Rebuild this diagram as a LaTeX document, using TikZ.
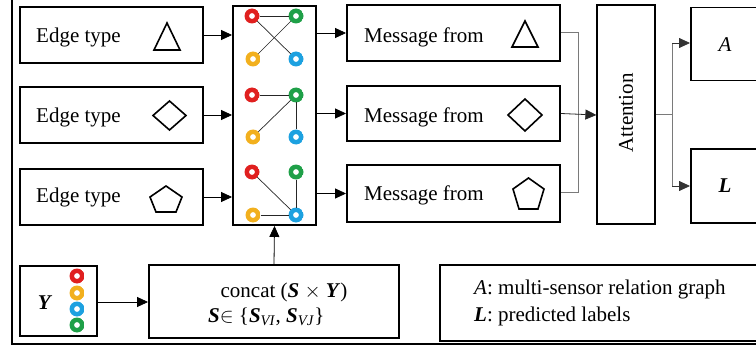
\documentclass[tikz,border=0pt]{standalone}
\usepackage{fontspec}
\setmainfont{Liberation Serif}
\usetikzlibrary{shapes.geometric,arrows.meta}
\definecolor{cred}{HTML}{E0201F}
\definecolor{cyel}{HTML}{F2B01E}
\definecolor{cblu}{HTML}{1DA1E0}
\definecolor{cgrn}{HTML}{1FA048}
\definecolor{cgray}{HTML}{7A7A7A}
\begin{document}
\begin{tikzpicture}[x=1pt,y=-1pt,
  box/.style={draw, line width=1.9pt, inner sep=0pt},
  thinbox/.style={draw, line width=1.2pt, inner sep=0pt},
  lbl/.style={font=\fontsize{21}{25}\selectfont, inner sep=0pt},
  ring/.style={circle, minimum size=15pt, inner sep=0pt, outer sep=0pt,
    path picture={\fill[#1, even odd rule] (path picture bounding box.center) circle[radius=7.5pt] circle[radius=3pt];}},
  gl/.style={line width=0.7pt, draw=black!85},
  sym/.style={line width=1.6pt, line join=miter},
  arr/.style={line width=0.8pt, -{Triangle[length=11pt,width=10pt]}},
  gline/.style={line width=1pt, draw=cgray}
]
\useasboundingbox (0,0) rectangle (756,353);
\clip (0,0) rectangle (756,353);

% outer frame
\draw[line width=1.9pt] (12,-10) -- (12,344) -- (800,344);

% edge type boxes
\node[box, minimum width=183pt, minimum height=56pt] (e1) at (111.5,35) {};
\node[box, minimum width=183pt, minimum height=56pt] (e2) at (111.5,115) {};
\node[box, minimum width=183pt, minimum height=56pt] (e3) at (111.5,197) {};
\node[lbl, anchor=west] (e1t) at (36,37) {Edge type};
\node[lbl, anchor=west] (e2t) at (36,117) {Edge type};
\node[lbl, anchor=west] (e3t) at (36,197) {Edge type};
\draw[sym] (167,23) -- (180,50) -- (154,50) -- cycle;
\draw[sym] (169.5,101) -- (186,115.5) -- (169.5,130) -- (153,115.5) -- cycle;
\draw[sym] (166,186) -- (182,197) -- (176,212) -- (156,212) -- (150,197) -- cycle;

% graph box
\node[box, minimum width=83pt, minimum height=219pt] (g) at (274.5,115.5) {};
\foreach \k/\ya/\yb in {1/16/59, 2/95/137, 3/172/215}{
  \node[ring=cred] (r\k) at (252,\ya) {};
  \node[ring=cgrn] (gr\k) at (296,\ya) {};
  \node[ring=cyel] (y\k) at (253,\yb) {};
  \node[ring=cblu] (b\k) at (296,\yb) {};
}
\draw[gl] (r1) -- (gr1);
\draw[gl] (r1) -- (b1);
\draw[gl] (y1) -- (gr1);
\draw[gl] (r2) -- (gr2);
\draw[gl] (gr2) -- (y2);
\draw[gl] (gr2) -- (b2);
\draw[gl] (r3) -- (b3);
\draw[gl] (gr3) -- (b3);
\draw[gl] (y3) -- (b3);

% edge -> graph arrows
\draw[arr] (e1.east) -- (e1.east -| g.west);
\draw[arr] (e2.east) -- (e2.east -| g.west);
\draw[arr] (e3.east) -- (e3.east -| g.west);

% message boxes
\node[box, minimum width=213pt, minimum height=56pt] (m1) at (453.5,33) {};
\node[box, minimum width=213pt, minimum height=55pt] (m2) at (453.5,113.5) {};
\node[box, minimum width=213pt, minimum height=57pt] (m3) at (453.5,193.5) {};
\node[lbl, anchor=west] (m1t) at (364,37) {Message from};
\node[lbl, anchor=west] (m2t) at (364,117) {Message from};
\node[lbl, anchor=west] (m3t) at (364,195) {Message from};
\draw[sym] (525,21) -- (538,47) -- (512,47) -- cycle;
\draw[sym] (525,99) -- (542,115) -- (525,131) -- (508,115) -- cycle;
\draw[sym] (528.5,178) -- (544,189) -- (538,209) -- (519,209) -- (513,189) -- cycle;

\draw[arr] (g.east |- m1.west) -- (m1.west);
\draw[arr] (g.east |- m2.west) -- (m2.west);
\draw[arr] (g.east |- m3.west) -- (m3.west);

% attention
\node[thinbox, minimum width=58pt, minimum height=219pt] (att) at (626,114.5) {};
\node[lbl, rotate=90] (attt) at (626,113) {Attention};

\coordinate (j1) at (578,33);
\coordinate (j3) at (578,192);
\draw[gline] (m1.east) -- (j1) -- (j3) -- (m3.east |- j3);
\draw[arr, black!85] (m2.east) -- (att.west |- 0,115);

% outputs
\node[box, line width=1.5pt, minimum width=120pt, minimum height=73pt, anchor=north west] (A) at (690,7) {};
\node[box, line width=1.5pt, minimum width=120pt, minimum height=74pt, anchor=north west] (L) at (690,148) {};
\node[lbl] (At) at (725,45) {\textit{A}};
\node[lbl] (Lt) at (725,186) {\textbf{\textit{L}}};
\coordinate (o1) at (672,115);
\coordinate (o2) at (672,43);
\coordinate (o3) at (672,186);
\draw[gline] (att.east |- o1) -- (o1);
\draw[gline] (o2) -- (o3);
\draw[arr, black!80] (o2) -- (A.west |- o2);
\draw[arr, black!80] (o3) -- (L.west |- o3);

% bottom row
\node[box, minimum width=77pt, minimum height=70pt] (Y) at (58.5,301) {};
\node[lbl] (Yt) at (45,303) {\textbf{\textit{Y}}};
\node[ring=cred] (yr) at (77,276) {};
\node[ring=cyel] (yy) at (77,293) {};
\node[ring=cblu] (yb) at (77,309) {};
\node[ring=cgrn] (yg) at (77,325) {};

\node[box, minimum width=250pt, minimum height=73pt] (cc) at (274,301.5) {};
\node[lbl] (cct1) at (284,292) {concat (\textbf{\textit{S}} $\times$ \textbf{\textit{Y}})};
\node[lbl, anchor=west] (cct2) at (208,317) {\textbf{\textit{S}}$\in$ \{\textbf{\textit{S}}\textsubscript{\textit{VI}}, \textbf{\textit{S}}\textsubscript{\textit{VJ}}\}};

\draw[arr] (Y.east |- 0,302) -- (cc.west |- 0,302);
\draw[arr] (cc.north) -- (g.south);

\node[box, minimum width=362pt, minimum height=76pt, anchor=north west] (leg) at (439,264) {};
\node[lbl, anchor=west] (l1) at (474,289) {\textit{A}: multi-sensor relation graph};
\node[lbl, anchor=west] (l2) at (474,316) {\textbf{\textit{L}}: predicted labels};
\end{tikzpicture}
\end{document}
